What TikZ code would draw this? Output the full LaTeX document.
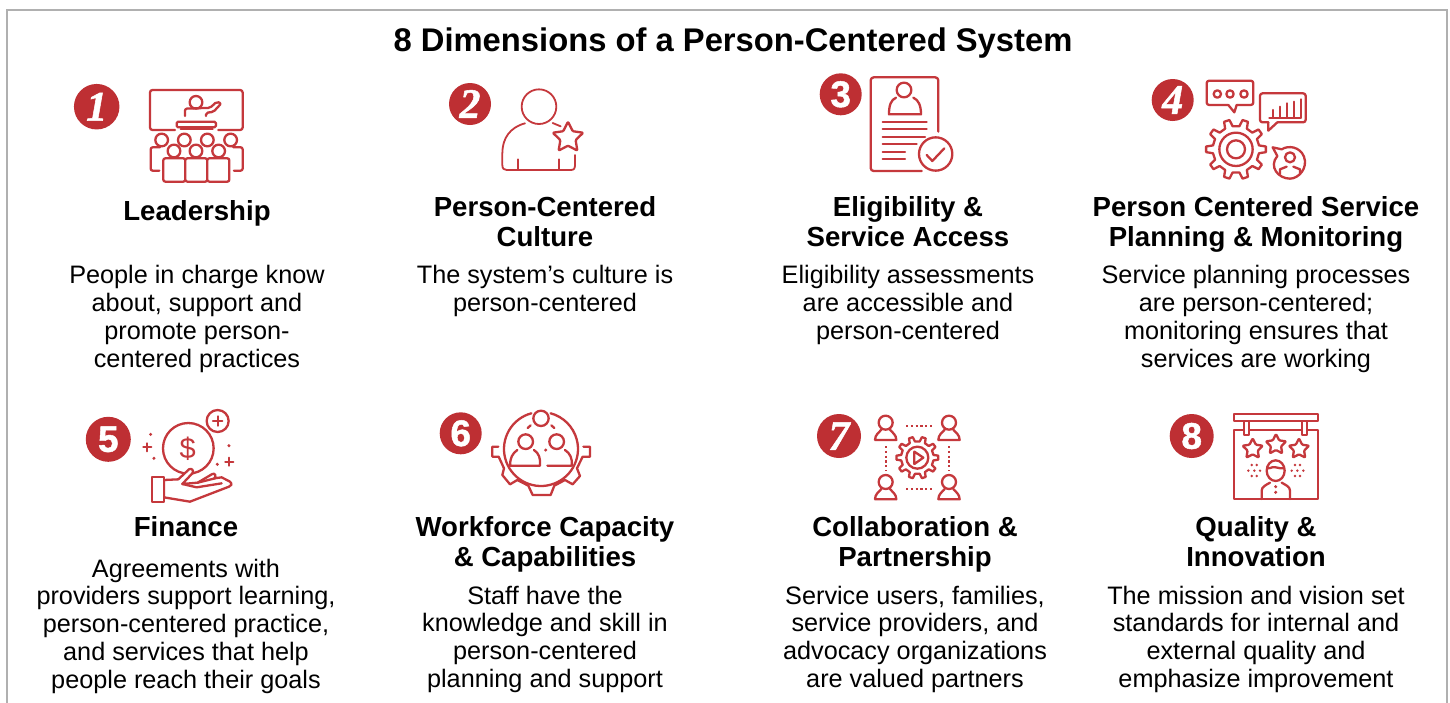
\documentclass[tikz,border=0pt]{standalone}
\usepackage{fontspec}
\setmainfont{Liberation Sans}
\newfontfamily\numserif[FakeBold=1.2]{Liberation Serif}
\newfontfamily\numsans[FakeBold=1.2]{Liberation Sans}
\usetikzlibrary{calc}
\definecolor{icred}{HTML}{C5383C}
\definecolor{badgered}{HTML}{BE2F33}
\definecolor{framegray}{HTML}{B0B0B0}
\newcommand{\gearshape}[5]{% cx cy Router Rinner N
  \begin{scope}[shift={(#1,#2)}]
    \pgfmathsetmacro{\gstep}{360/#5}
    \pgfmathsetmacro{\glast}{#5-1}
    \draw[iconline,fill=white] (-.27*\gstep:#4)
      \foreach \gi in {0,...,\glast} {
        -- ({\gi*\gstep-.27*\gstep}:#4) -- ({\gi*\gstep-.15*\gstep}:#3)
        -- ({\gi*\gstep+.15*\gstep}:#3) -- ({\gi*\gstep+.27*\gstep}:#4)
      } -- cycle;
  \end{scope}}
\newcommand{\starshape}[3]{% cx cy R  (the y axis points down here)
  \begin{scope}[shift={(#1,#2)}]
    \draw[iconline,fill=white,rounded corners=1pt]
      (-90:#3) -- (-54:.5*#3) -- (-18:#3) -- (18:.5*#3) -- (54:#3) -- (90:.5*#3)
      -- (126:#3) -- (162:.5*#3) -- (198:#3) -- (234:.5*#3) -- cycle;
  \end{scope}}
\tikzset{
  iconline/.style={draw=icred,line width=2.3pt,line cap=round,line join=round},
  thinline/.style={draw=icred,line width=1.8pt,line cap=round,line join=round},
  iconzoom/.style={shift={#1},x=.3333pt,y=-.3333pt},
  badge/.style={circle,fill=badgered,draw=none,inner sep=0pt,text=white,minimum size=42pt},
  badgefig/.style={font=\numserif\fontsize{42}{42}\selectfont\bfseries\itshape},
  badgeup/.style={font=\numsans\fontsize{37}{37}\selectfont\bfseries},
  titletext/.style={font=\fontsize{32.75}{36}\selectfont\bfseries,inner sep=0pt,anchor=base},
  headtext/.style={font=\fontsize{27.6}{30}\selectfont\bfseries,inner sep=0pt,align=center,anchor=north},
  bodytext/.style={font=\fontsize{25.25}{27.9}\selectfont,inner sep=0pt,align=center,anchor=north},
  dotline/.style={draw=icred,line width=2.1pt,dash pattern=on 2.1pt off 2.7pt},
}
\begin{document}
\begin{tikzpicture}[x=1pt,y=-1pt]
\useasboundingbox (0,0) rectangle (1450,702);
\fill[white] (0,0) rectangle (1450,702);
\draw[framegray,line width=2pt] (7,720) -- (7,10) -- (1447,10) -- (1447,720);

\node[titletext] (title) at (733,51) {8 Dimensions of a Person-Centered System};

% Headings
\node[headtext] (h1) at (197,200.5) {Leadership};
\node[headtext] (h2) at (545,196.5) {Person-Centered\\Culture};
\node[headtext] (h3) at (908,196.5) {Eligibility \&\\Service Access};
\node[headtext] (h4) at (1256,196.5) {Person Centered Service\\Planning \& Monitoring};
\node[headtext] (h5) at (186,516.5) {Finance};
\node[headtext] (h6) at (545,516.5) {Workforce Capacity\\\& Capabilities};
\node[headtext] (h7) at (915,516.5) {Collaboration \&\\Partnership};
\node[headtext] (h8) at (1256,516.5) {Quality \&\\Innovation};

% Descriptions
\node[bodytext] (b1) at (197,265) {People in charge know\\about, support and\\promote person-\\centered practices};
\node[bodytext] (b2) at (545,265) {The system’s culture is\\person-centered};
\node[bodytext] (b3) at (908,265) {Eligibility assessments\\are accessible and\\person-centered};
\node[bodytext] (b4) at (1256,265) {Service planning processes\\are person-centered;\\monitoring ensures that\\services are working};
\node[bodytext] (b5) at (186,558.5) {Agreements with\\providers support learning,\\person-centered practice,\\and services that help\\people reach their goals};
\node[bodytext] (b6) at (545,585.5) {Staff have the\\knowledge and skill in\\person-centered\\planning and support};
\node[bodytext] (b7) at (915,585.5) {Service users, families,\\service providers, and\\advocacy organizations\\are valued partners};
\node[bodytext] (b8) at (1256,585.5) {The mission and vision set\\standards for internal and\\external quality and\\emphasize improvement};

% Badges
\node[badge,minimum size=45.5pt,badgefig] (n1) at (96.7,106.7) {1};
\node[badge,badgefig] (n2) at (470,104) {2};
\node[badge,badgeup] (n3) at (840.7,94.3) {3};
\node[badge,badgefig] (n4) at (1172.7,100) {4};
\node[badge,minimum size=45pt,badgeup] (n5) at (108.3,439.3) {5};
\node[badge,badgeup] (n6) at (460.7,433.3) {6};
\node[badge,minimum size=44pt,badgefig] (n7) at (839,436) {7};
\node[badge,minimum size=44pt,badgeup] (n8) at (1191.7,436) {8};

% Icon 1
\begin{scope}[iconzoom={(60,70)}]
  \draw[iconline,rounded corners=2.5pt] (345,180) -- (270,180) -- (270,60) -- (548,60) -- (548,180) -- (475,180);
  \draw[iconline] (408,97) circle (19);
  \draw[iconline,rounded corners=2pt] (375,138) -- (375,116) -- (432,114) -- (450,114) -- (470,95) -- (484,100) -- (460,126) -- (438,128) -- (438,138);
  \draw[iconline,rounded corners=1.5pt] (350,155) rectangle (468,172);
  \draw[iconline] (362,177) -- (458,177);
  \foreach \hx in {305,373,442,512} \draw[iconline] (\hx,210) circle (19);
  \draw[iconline,rounded corners=2pt] (298,302) -- (272,302) -- (272,232) -- (300,232);
  \draw[iconline,rounded corners=2pt] (522,302) -- (548,302) -- (548,232) -- (520,232);
  \foreach \hx in {342,408,476} \draw[iconline,fill=white] (\hx,243) circle (19);
  \draw[iconline,rounded corners=2pt,fill=white] (310,335) -- (310,265) -- (376,265) -- (376,335) -- cycle;
  \draw[iconline,rounded corners=2pt,fill=white] (376,335) -- (376,265) -- (442,265) -- (442,335) -- cycle;
  \draw[iconline,rounded corners=2pt,fill=white] (442,335) -- (442,265) -- (508,265) -- (508,335) -- cycle;
\end{scope}

% Icon 2
\begin{scope}[iconzoom={(440,70)}]
  \draw[thinline] (297,110) circle (52);
  \draw[thinline] (255,160) .. controls (210,172) and (187,205) .. (187,250) -- (187,285) .. controls (187,296) and (192,300) .. (200,300) -- (392,300) .. controls (402,300) and (405,296) .. (405,285) -- (405,255);
  \draw[thinline] (235,268) -- (235,300) (358,268) -- (358,300);
  \draw[thinline] (338,159) -- (362,169);
  \starshape{384}{203}{48}
\end{scope}

% Icon 3
\begin{scope}[iconzoom={(810,65)}]
  \draw[iconline,rounded corners=3pt] (385,200) -- (385,37) -- (182,37) -- (182,318) -- (335,318);
  \draw[iconline] (282,75) circle (22);
  \draw[iconline] (258,98) .. controls (243,105) and (237,120) .. (237,148) -- (333,148) .. controls (333,120) and (325,105) .. (310,98);
  \draw[iconline] (218,171) -- (350,171) (218,193) -- (350,193) (218,215) -- (345,215) (218,237) -- (320,237) (218,260) -- (285,260) (218,283) -- (285,283);
  \draw[iconline] (377,267) circle (50);
  \draw[iconline] (350,270) -- (367,288) -- (403,250);
\end{scope}

% Icon 4
\begin{scope}[iconzoom={(1140,70)}]
  \draw[iconline,rounded corners=2.5pt] (265,105) -- (200,105) -- (200,32) -- (340,32) -- (340,105) -- (290,105);
  \draw[iconline] (265,105) -- (283,127) -- (290,105);
  \foreach \dx in {232,270,312} \draw[iconline] (\dx,72) circle (11);
  \draw[iconline,rounded corners=2.5pt] (385,157) -- (360,157) -- (360,70) -- (497,70) -- (497,157) -- (412,157);
  \draw[iconline] (385,157) -- (385,182) -- (412,157);
  \draw[iconline] (388,143) -- (482,143);
  \draw[iconline] (400,143) -- (400,120) (420,143) -- (420,110) (442,143) -- (442,100) (462,143) -- (462,95) (482,143) -- (482,88);
  \gearshape{288}{238}{90}{70}{10}
  \draw[iconline] (288,238) circle (50);
  \draw[iconline] (288,238) circle (27);
  \draw[iconline] (398,232) -- (425,238) .. controls (445,225) and (480,230) .. (492,260) .. controls (505,295) and (475,326) .. (450,326) .. controls (415,326) and (385,290) .. (412,258) -- cycle;
  \draw[iconline] (450,262) circle (15);
  \draw[iconline] (420,312) -- (420,298) -- (440,290) (460,290) -- (480,298) -- (480,312);
\end{scope}

% Icon 5
\begin{scope}[iconzoom={(75,400)}]
  \draw[iconline] (340,145) circle (76);
  \node[text=icred,font=\fontsize{29}{29}\selectfont,inner sep=0pt] (dollar) at (338,145) {\$};
  \draw[iconline] (428,63) circle (33);
  \draw[iconline] (414,63) -- (442,63) (428,49) -- (428,77);
  \fill[icred] (227,103) circle (5) (237,175) circle (5) (462,137) circle (5) (427,193) circle (5);
  \draw[iconline] (205,142) -- (229,142) (217,130) -- (217,154) (451,185) -- (475,185) (463,173) -- (463,197);
  \draw[iconline,fill=white] (267,240) -- (310,238) -- (342,208) .. controls (350,203) and (358,212) .. (352,220) -- (322,252) -- (368,248) -- (412,222) .. controls (420,218) and (425,228) .. (418,235) -- (440,232) -- (465,245) .. controls (472,252) and (470,258) .. (462,260) -- (345,305) -- (267,292) -- cycle;
  \draw[iconline] (322,252) -- (365,262) -- (440,250) (368,248) -- (420,235);
  \draw[iconline,fill=white] (232,232) rectangle (267,305);
\end{scope}

% Icon 6
\begin{scope}[iconzoom={(430,400)}]
  \draw[iconline] (333,147) ++ (-105:111) arc[start angle=-105,end angle=-435,radius=111];
  \draw[iconline] (333,55) circle (23);
  \draw[iconline] (287,125) circle (22);
  \draw[iconline] (380,125) circle (22);
  \draw[iconline] (293,84) -- (302,76) (364,76) -- (373,84);
  \fill[icred] (347,150) circle (5);
  \draw[iconline] (262,150) .. controls (247,160) and (240,175) .. (240,197) -- (330,197) .. controls (332,175) and (327,160) .. (312,150);
  \draw[iconline] (352,197) -- (425,197) .. controls (428,175) and (420,160) .. (405,150);
  \draw[iconline] (205,140) -- (187,140) -- (187,170) -- (206,170) -- (222,205) -- (217,225) -- (240,253) -- (262,240) -- (295,257) -- (308,285) -- (362,285) -- (373,257) -- (405,240) -- (428,253) -- (450,228) -- (441,205) -- (458,170) -- (480,170) -- (480,140) -- (460,140);
\end{scope}

% Icon 7
\begin{scope}[iconzoom={(805,400)}]
  \foreach \px/\py in {242/68,432/68,242/246,432/246} {
    \draw[iconline] (\px,\py) circle (21);
    \draw[iconline] (\px-32,\py+52) .. controls (\px-32,\py+36) and (\px-20,\py+30) .. (\px-13,\py+21)
       (\px+13,\py+21) .. controls (\px+20,\py+30) and (\px+32,\py+36) .. (\px+32,\py+52) -- (\px-32,\py+52);
  }
  \draw[dotline] (303,77) -- (380,77);
  \draw[dotline] (303,267) -- (380,267);
  \draw[dotline] (242,138) -- (242,212);
  \draw[dotline] (432,138) -- (432,212);
  \gearshape{337}{173}{63}{49}{10}
  \draw[iconline] (337,173) circle (33);
  \draw[iconline] (328,155) -- (355,173) -- (328,192) -- cycle;
\end{scope}

% Icon 8
\begin{scope}[iconzoom={(1160,400)}]
  \draw[iconline] (222,90) rectangle (475,297);
  \draw[iconline,fill=white] (252,55) rectangle (268,105);
  \draw[iconline,fill=white] (425,55) rectangle (441,105);
  \draw[iconline,fill=white] (222,42) rectangle (475,62);
  \starshape{278}{147}{32}
  \starshape{348}{134}{32}
  \starshape{417}{147}{32}
  \draw[iconline] (347,212) ellipse (27 and 31);
  \draw[iconline] (322,205) .. controls (335,205) and (340,198) .. (347,202) .. controls (355,205) and (365,205) .. (372,205);
  \draw[iconline] (305,297) -- (305,272) .. controls (305,260) and (318,255) .. (330,248) (365,248) .. controls (377,255) and (390,260) .. (390,272) -- (390,297);
  \fill[icred] (347,260) circle (5) (347,277) circle (5);
  \foreach \sx/\sy in {275/195,290/195,265/212,283/212,300/212,275/228,290/228,
                       405/195,420/195,395/212,412/212,430/212,405/228,420/228}
    \fill[icred] (\sx,\sy) circle (4);
\end{scope}
\end{tikzpicture}
\end{document}
